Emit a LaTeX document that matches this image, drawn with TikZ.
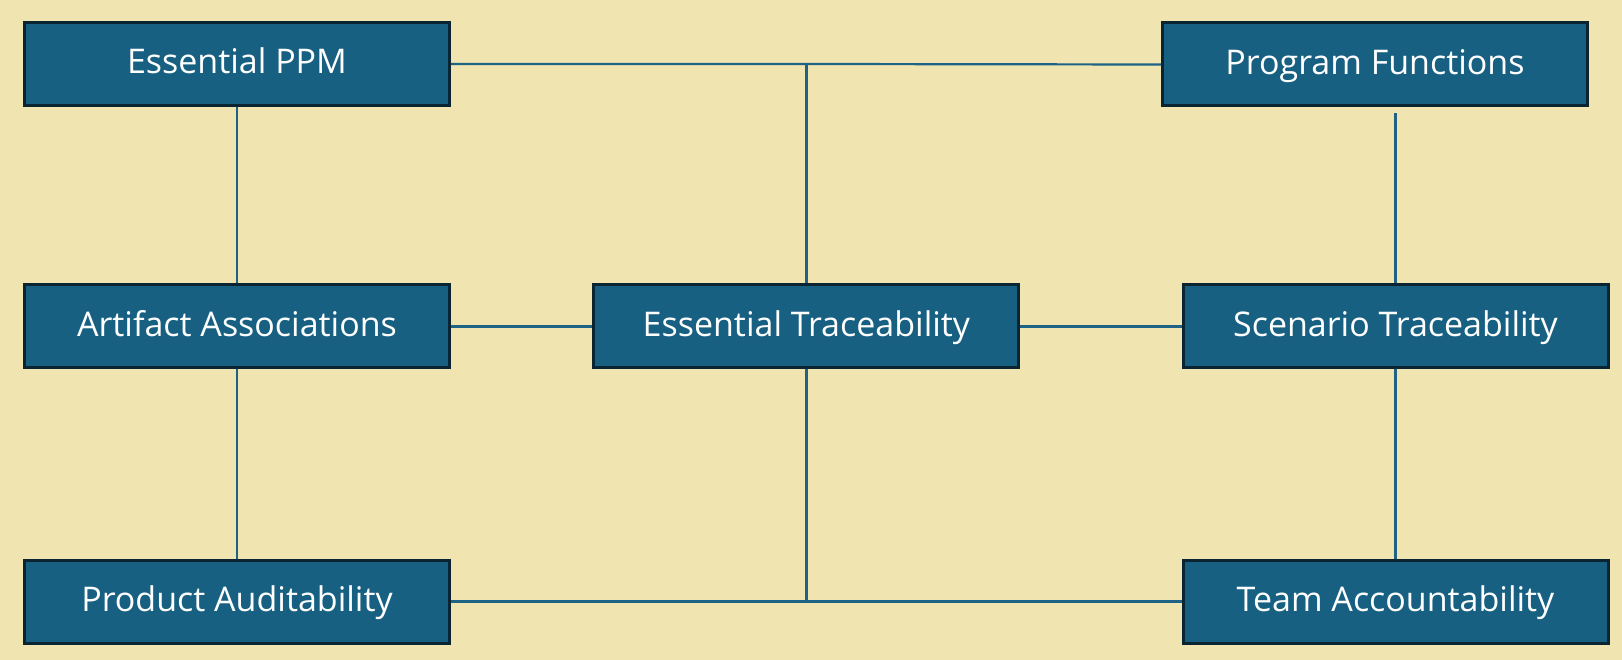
\documentclass[tikz,border=0pt]{standalone}
\usepackage{fontspec}
\setmainfont{Open Sans}
\usetikzlibrary{positioning, calc}
\definecolor{bgkhaki}{RGB}{240,228,176}
\definecolor{boxblue}{RGB}{23,96,130}
\definecolor{boxedge}{RGB}{10,36,50}
\definecolor{wireblue}{RGB}{30,98,134}
\tikzset{
        my-box/.style={
            rectangle, draw=boxedge, fill=boxblue, line width=3pt,
            minimum width=425pt, minimum height=83pt, inner sep=0pt,
            text height=24.5pt, text depth=4.5pt,
            text=white, font=\fontsize{34}{40}\selectfont
        },
        my-wire/.style={
            draw=wireblue, line width=2.2pt
        },
}
\begin{document}
\begin{tikzpicture}[x=1pt, y=-1pt, node distance=.2cm]

        % BACKGROUND
        \fill [bgkhaki] (0,0) rectangle (1622,660);
        \useasboundingbox (0,0) rectangle (1622,660);

        %DRAW NODES (left column, middle, right column)
        \node [my-box]   (PPM)   at (237,64)       {Essential PPM};
        \node [my-box]   (ART)   at (237,326.4)    {Artifact Associations};
        \node [my-box]   (AUD)   at (237,601.5)    {Product Auditability};
        \node [my-box]   (ETR)   at (806.4,326.4)  {Essential Traceability};
        \node [my-box]   (PRG)   at (1375,64.5)    {Program Functions};
        \node [my-box]   (SCN)   at (1395.5,326.4) {Scenario Traceability};
        \node [my-box]   (TEAM)  at (1395.5,601.5) {Team Accountability};

        % JUNCTIONS
        \coordinate (top)    at (ETR.north |- PPM.east);
        \coordinate (bottom) at (ETR.south |- AUD.east);
        \coordinate (prgend) at ($(SCN.north |- PRG.south)+(0,6)$);

        % CONNECT LEFT COLUMN
        \draw [my-wire] (PPM.south) -- (ART.north);
        \draw [my-wire] (ART.south) -- (AUD.north);

        % CONNECT RIGHT COLUMN
        \draw [my-wire] (prgend) -- (SCN.north);
        \draw [my-wire] (SCN.south) -- (TEAM.north);

        % CONNECT MIDDLE ROW
        \draw [my-wire] (ART.east) -- (ETR.west);
        \draw [my-wire] (ETR.east) -- (SCN.west);

        % CONNECT TOP AND BOTTOM
        \draw [my-wire] (PPM.east) -- (top) -- (PRG.west);
        \draw [my-wire] (top) -- (ETR.north);
        \draw [my-wire] (AUD.east) -- (bottom) -- (TEAM.west);
        \draw [my-wire] (bottom) -- (ETR.south);

    \end{tikzpicture}
\end{document}
